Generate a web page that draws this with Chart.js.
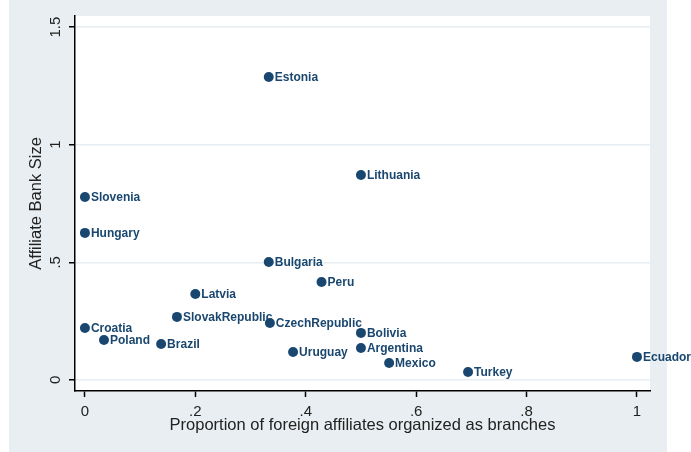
<!DOCTYPE html>
<html>
<head>
<meta charset="utf-8">
<script src="https://cdn.jsdelivr.net/npm/chart.js@4/dist/chart.umd.min.js"></script>
<style>
  body { margin: 0; background: #fff; }
</style>
</head>
<body>
<canvas id="myChart" width="691" height="452"></canvas>
<script>
// Country names and the two measures
const countries = ['Estonia', 'Lithuania', 'Slovenia', 'Hungary', 'Bulgaria', 'Peru', 'Latvia',
  'SlovakRepublic', 'CzechRepublic', 'Croatia', 'Poland', 'Brazil', 'Uruguay', 'Bolivia',
  'Argentina', 'Mexico', 'Turkey', 'Ecuador'];
const branchShare = [0.333, 0.5, 0, 0, 0.333, 0.4286, 0.2,
  0.1667, 0.335, 0, 0.0345, 0.138, 0.377, 0.5,
  0.5, 0.551, 0.694, 1];
const bankSize = [1.288, 0.871, 0.778, 0.625, 0.501, 0.416, 0.365,
  0.268, 0.242, 0.221, 0.170, 0.153, 0.119, 0.200,
  0.136, 0.072, 0.034, 0.098];

const xTicks = [0, 0.2, 0.4, 0.6, 0.8, 1];
const yTicks = [0, 0.5, 1, 1.5];

const navy = '#1a476f';
const fontFamily = '"Liberation Sans", Arial, sans-serif';

// stata style: drop the leading zero
function fmt(v) {
  if (v === 0) return '0';
  return String(v).replace(/^0\./, '.');
}

var points = countries.map(function (c, i) {
  return { x: branchShare[i], y: bankSize[i] };
});

// gray outer frame and white plot region
var backdrop = {
  id: 'backdrop',
  beforeDraw: function (chart) {
    var ctx = chart.ctx;
    var a = chart.chartArea;
    ctx.save();
    ctx.fillStyle = '#fff';
    ctx.fillRect(0, 0, chart.width, chart.height);
    ctx.fillStyle = '#e8eef1';
    ctx.fillRect(9, 0, 658, chart.height);
    ctx.fillStyle = '#fff';
    ctx.fillRect(a.left, a.top, a.right - a.left, a.bottom - a.top);
    ctx.restore();
  }
};

// country name to the right of each marker
var pointLabels = {
  id: 'pointLabels',
  afterDatasetsDraw: function (chart) {
    var ctx = chart.ctx;
    var meta = chart.getDatasetMeta(0);
    ctx.save();
    ctx.font = 'bold 12px ' + fontFamily;
    ctx.fillStyle = navy;
    ctx.textAlign = 'left';
    ctx.textBaseline = 'middle';
    meta.data.forEach(function (pt, i) {
      ctx.fillText(countries[i], pt.x + 6, pt.y + 1);
    });
    ctx.restore();
  }
};

var ctx = document.getElementById('myChart').getContext('2d');

var myChart = new Chart(ctx, {
  type: 'scatter',
  data: {
    datasets: [{
      data: points,
      backgroundColor: navy,
      borderWidth: 0,
      pointRadius: 5
    }]
  },
  options: {
    responsive: false,
    animation: false,
    layout: { padding: { left: 9, right: 41, top: 16, bottom: 0 } },
    plugins: {
      legend: { display: false },
      tooltip: { enabled: false }
    },
    scales: {
      x: {
        type: 'linear',
        min: -0.018,
        max: 1.0236,
        afterBuildTicks: function (scale) {
          scale.ticks = xTicks.map(function (v) { return { value: v }; });
        },
        afterFit: function (scale) { scale.height = 61; },
        border: { display: true, color: '#000', width: 1.5 },
        grid: { drawOnChartArea: false, tickColor: '#000', tickLength: 6, tickWidth: 1.5 },
        ticks: {
          padding: 6,
          color: '#222',
          font: { family: fontFamily, size: 15 },
          callback: function (v) { return fmt(v); }
        },
        title: {
          display: true,
          text: 'Proportion of foreign affiliates organized as branches',
          color: '#222',
          font: { family: fontFamily, size: 16.5 },
          padding: { top: 0, bottom: 17 }
        }
      },
      y: {
        type: 'linear',
        min: -0.047,
        max: 1.547,
        afterBuildTicks: function (scale) {
          scale.ticks = yTicks.map(function (v) { return { value: v }; });
        },
        afterFit: function (scale) { scale.width = 66; },
        border: { display: true, color: '#000', width: 1.5 },
        grid: { color: '#e6eef1', lineWidth: 1.5, tickColor: '#000', tickLength: 6, tickWidth: 1.5 },
        ticks: {
          padding: 3,
          minRotation: 90,
          maxRotation: 90,
          crossAlign: 'center',
          color: '#222',
          font: { family: fontFamily, size: 15 },
          callback: function (v) { return fmt(v); }
        },
        title: {
          display: true,
          text: 'Affiliate Bank Size',
          color: '#222',
          font: { family: fontFamily, size: 16.5 },
          padding: { top: 18, bottom: 0 }
        }
      }
    }
  },
  plugins: [backdrop, pointLabels]
});
</script>
</body>
</html>
